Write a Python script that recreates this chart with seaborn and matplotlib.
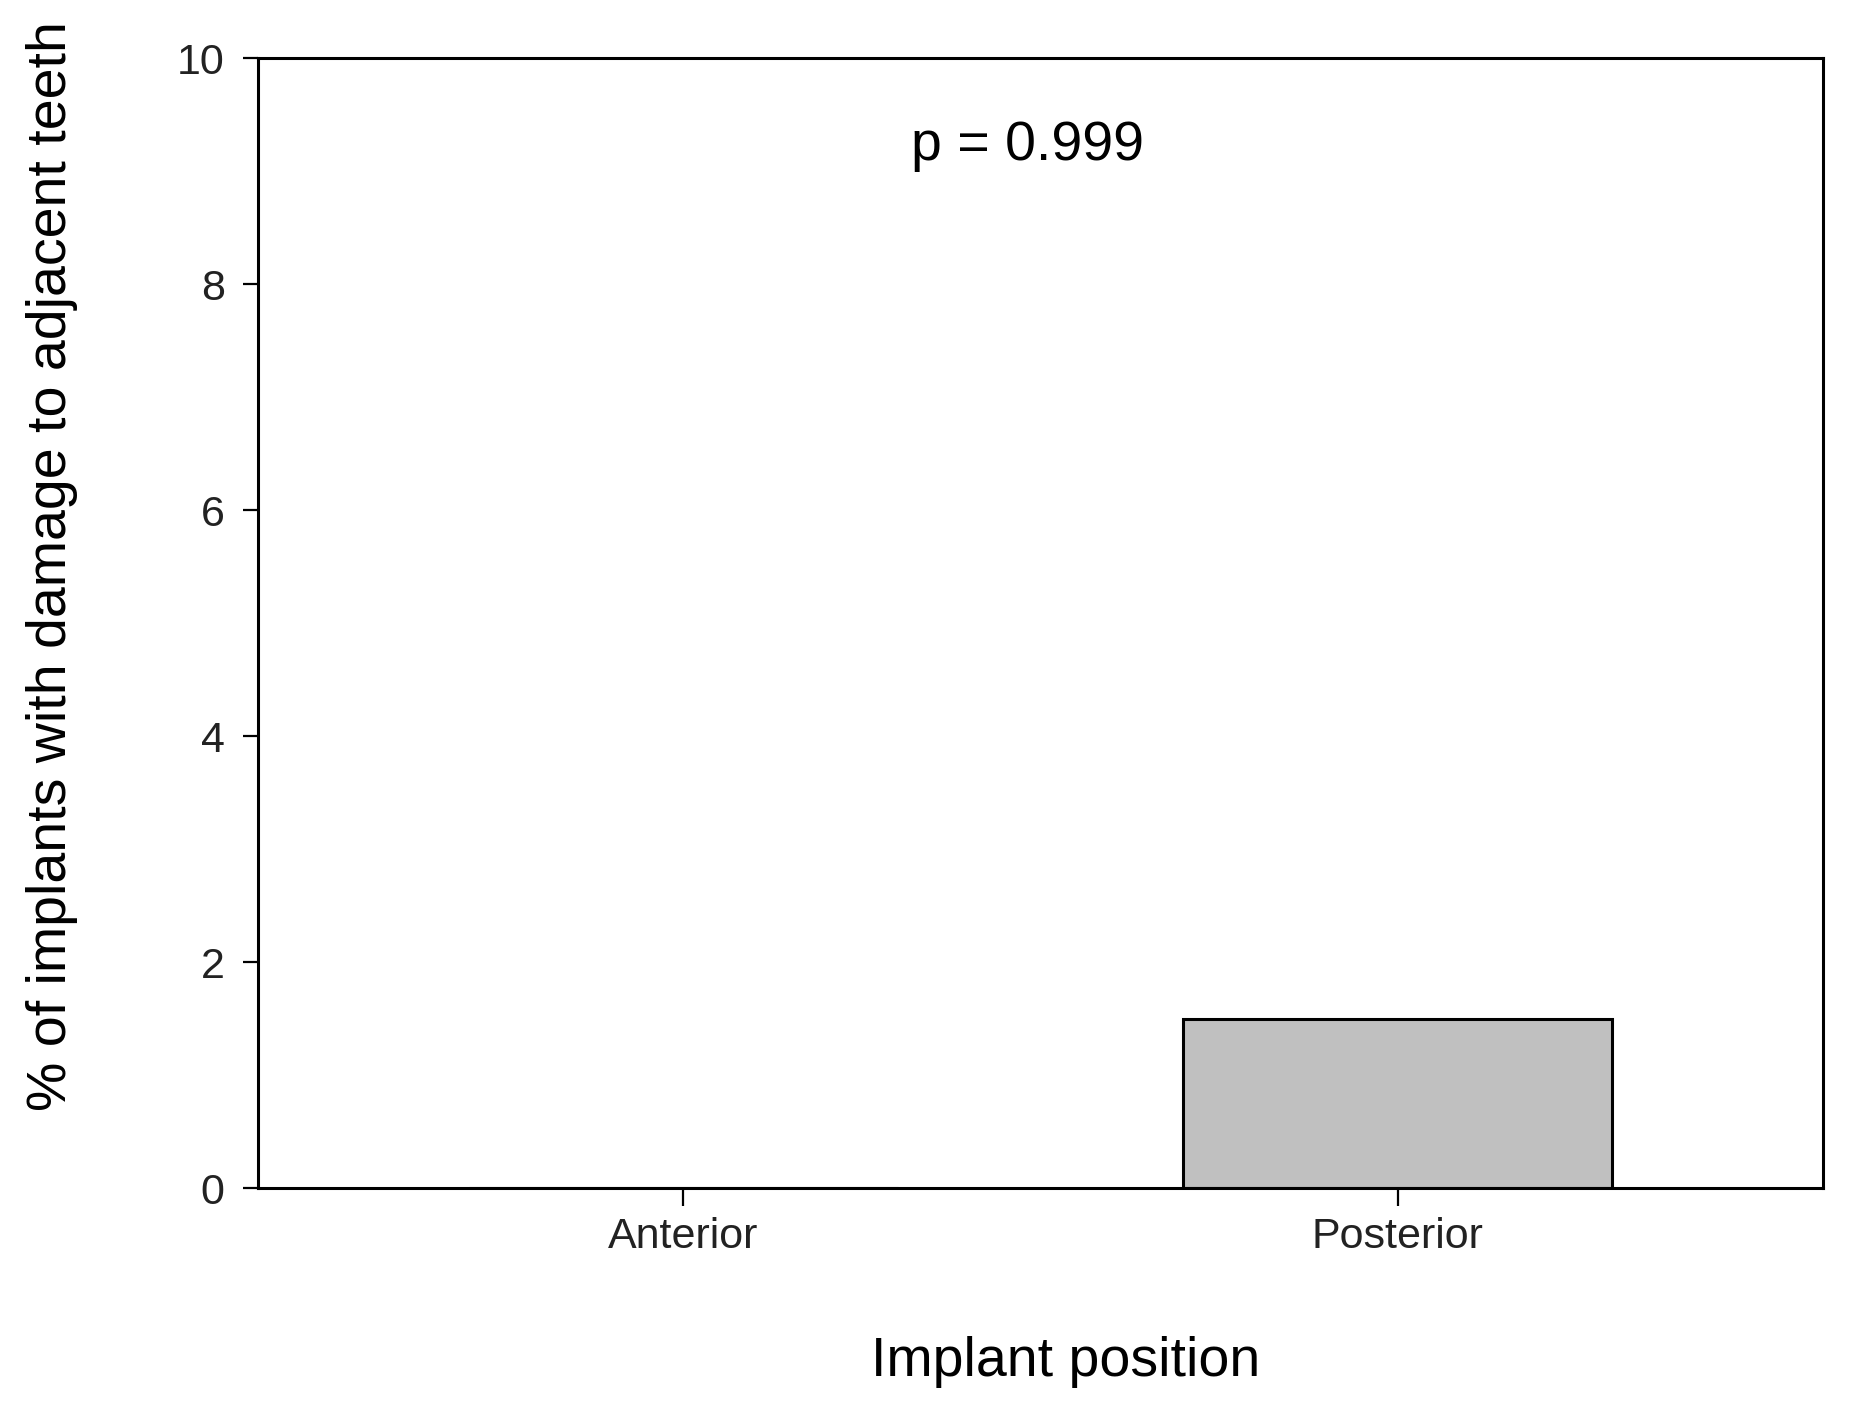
import matplotlib
matplotlib.use("Agg")
import matplotlib.pyplot as plt
from matplotlib import font_manager
import pandas as pd
import seaborn as sns

positions = ["Anterior", "Posterior"]
damage_pct = [0.0, 1.5]
y_ticks = [0, 2, 4, 6, 8, 10]
p_text = "p = 0.999"

df = pd.DataFrame({"position": positions, "pct": damage_pct})

sns.set_style("white")
plt.rcParams['font.family'] = ['Liberation Sans', 'DejaVu Sans']
plt.rcParams['text.color'] = 'black'
plt.rcParams['axes.labelcolor'] = 'black'

installed = {f.name for f in font_manager.fontManager.ttflist}
tick_font = 'Liberation Sans Narrow' if 'Liberation Sans Narrow' in installed else 'Liberation Sans'

fig = plt.figure(figsize=(18.58, 14.13), dpi=100)
ax = fig.add_axes([258/1858, 1 - 1188/1413, (1823-258)/1858, (1188-58)/1413])

sns.barplot(data=df, x="position", y="pct", color="#c0c0c0", saturation=1,
            width=0.6, edgecolor="black", linewidth=2.2, ax=ax)

ax.set_xlim(-0.595, 1.595)
ax.set_ylim(0, 10)
ax.set_yticks(y_ticks)
ax.set_yticklabels([str(t) for t in y_ticks], fontfamily=tick_font, fontsize=31, color='#222222')
ax.set_xticks(range(len(positions)))
ax.set_xticklabels(positions, fontfamily=tick_font, fontsize=31, color='#222222')
ax.tick_params(axis='y', left=True, direction='out', length=11, width=1.6, pad=13, color='black')
ax.tick_params(axis='x', bottom=True, direction='out', length=13, width=1.6, pad=8, color='black')

for side in ['left', 'right', 'top', 'bottom']:
    ax.spines[side].set_visible(True)
    ax.spines[side].set_color('black')
    ax.spines[side].set_linewidth(2.2)

ax.set_xlabel("Implant position", fontsize=40)
ax.xaxis.set_label_coords(0.516, -(1336-1188)/1130)
ax.set_ylabel("% of implants with damage to adjacent teeth", fontsize=40)
ax.yaxis.set_label_coords(-0.115, 0.55)

ax.text(0.492, 0.922, p_text, transform=ax.transAxes, ha='center', va='center', fontsize=40)

plt.savefig("out.png", dpi=100)
